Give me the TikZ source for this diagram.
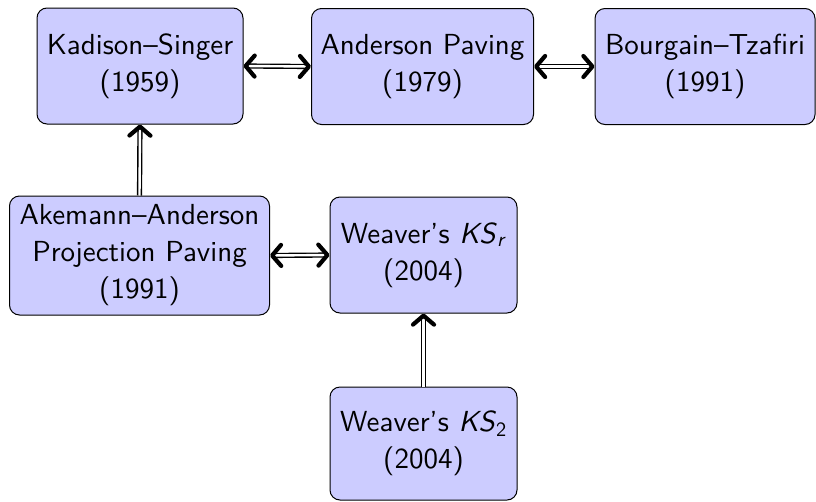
\documentclass[tikz,border=0pt]{standalone}
\usepackage{fontspec}
\setsansfont{lmsans10-regular.otf}[ItalicFont=lmsans10-oblique.otf]
\usetikzlibrary{arrows.meta}
\definecolor{boxfill}{RGB}{204,204,255}
\tikzset{
  box/.style={draw=black, line width=1pt, fill=boxfill, rounded corners=10pt,
    align=center, inner sep=0pt, font=\sffamily\fontsize{29}{37}\selectfont},
  tipstyle/.style={},
  dbl/.style={double, double distance=2.4pt, line width=1.4pt,
    arrows={Straight Barb[round, length=9pt, width=21pt, line width=4.2pt]-Straight Barb[round, length=9pt, width=21pt, line width=4.2pt]}},
  sgl/.style={double, double distance=2.4pt, line width=1.4pt,
    arrows={-Straight Barb[round, length=9pt, width=21pt, line width=4.2pt]}}
}
\begin{document}
\begin{tikzpicture}[x=1pt, y=-1pt]
\useasboundingbox (0,0) rectangle (816,501);
\node[box, minimum width=206pt, minimum height=116pt] (ks) at (140,66) {Kadison--Singer\\(1959)};
\node[box, minimum width=222pt, minimum height=116pt] (ap) at (422.5,66.5) {Anderson Paving\\(1979)};
\node[box, minimum width=220pt, minimum height=116pt] (bt) at (705,66.5) {Bourgain--Tzafiri\\(1991)};
\node[box, minimum width=260pt, minimum height=119pt] (aa) at (139.5,255.5) {Akemann--Anderson\\Projection Paving\\(1991)};
\node[box, minimum width=187pt, minimum height=116pt] (ksr) at (423.5,255) {Weaver's \textit{KS}\textsubscript{\textit{r}}\\(2004)};
\node[box, minimum width=187pt, minimum height=113pt] (ks2) at (423.5,443.5) {Weaver's \textit{KS}\textsubscript{2}\\(2004)};
\draw[dbl] (ks.east) -- (ap.west);
\draw[dbl] (ap.east) -- (bt.west);
\draw[dbl] (aa.east) -- (ksr.west);
\draw[sgl] (aa.north) -- (ks.south);
\draw[sgl] (ks2.north) -- (ksr.south);
\end{tikzpicture}
\end{document}
